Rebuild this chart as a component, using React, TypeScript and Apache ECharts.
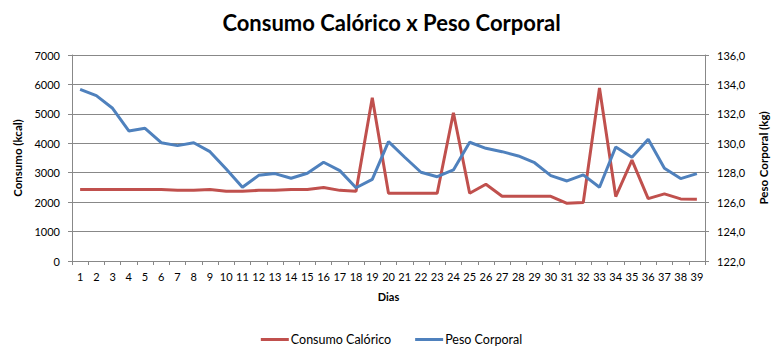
import React, { useEffect, useRef } from "react";
import * as echarts from "echarts";

const dias: string[] = Array.from({ length: 39 }, (_, i) => String(i + 1));

const consumoCalorico: number[] = [
  2430, 2430, 2430, 2430, 2430, 2430, 2400, 2400, 2430, 2370,
  2370, 2400, 2400, 2430, 2430, 2500, 2400, 2370, 5550, 2300,
  2300, 2300, 2300, 5040, 2300, 2610, 2200, 2200, 2200, 2200,
  1960, 1990, 5880, 2190, 3430, 2120, 2280, 2110, 2100,
];

const pesoCorporal: number[] = [
  133.67, 133.24, 132.38, 130.84, 131.02, 130.04, 129.84, 130.04, 129.43, 128.25,
  127.01, 127.82, 127.94, 127.62, 127.96, 128.71, 128.14, 126.98, 127.55, 130.11,
  129.05, 128.03, 127.73, 128.19, 130.07, 129.66, 129.43, 129.14, 128.68, 127.8,
  127.44, 127.85, 127.01, 129.75, 129.05, 130.27, 128.3, 127.6, 127.94,
];

const FONT = "Lato, 'Open Sans', sans-serif";

export default function App() {
  const ref = useRef<HTMLDivElement>(null);
  useEffect(() => {
    const chart = echarts.init(ref.current!, null, { renderer: "svg" });
    chart.setOption({
      animation: false,
      textStyle: { fontFamily: FONT },
      title: {
        text: "Consumo Calórico x Peso Corporal",
        left: "center",
        top: 6,
        textStyle: { fontSize: 22, fontWeight: "bold", color: "#000", fontFamily: FONT },
      },
      grid: { left: 72, right: 78, top: 55, bottom: 94 },
      legend: {
        top: 328,
        left: "center",
        itemWidth: 28,
        itemHeight: 3,
        itemGap: 24,
        icon: "rect",
        textStyle: { fontSize: 12.5, color: "#000", padding: [0, 0, 0, -3] },
        data: ["Consumo Calórico", "Peso Corporal"],
      },
      xAxis: {
        type: "category",
        data: dias,
        boundaryGap: true,
        name: "Dias",
        nameLocation: "middle",
        nameGap: 30,
        nameTextStyle: { fontSize: 11, fontWeight: "bold", color: "#000" },
        axisLine: { lineStyle: { color: "#888" } },
        axisTick: { show: true, alignWithLabel: false, length: 4, lineStyle: { color: "#888" } },
        axisLabel: { fontSize: 11, color: "#000", interval: 0, margin: 10 },
      },
      yAxis: [
        {
          type: "value",
          min: 0,
          max: 7000,
          interval: 1000,
          name: "Consumo (kcal)",
          nameLocation: "middle",
          nameRotate: 90,
          nameGap: 44,
          nameTextStyle: { fontSize: 11.5, fontWeight: "bold", color: "#000" },
          axisLine: { show: true, lineStyle: { color: "#888" } },
          axisTick: { show: true, length: 4, lineStyle: { color: "#888" } },
          axisLabel: { fontSize: 11, color: "#000", margin: 12, formatter: (v: number) => String(v) },
          splitLine: { show: true, lineStyle: { color: "#888", width: 1 } },
        },
        {
          type: "value",
          min: 122,
          max: 136,
          interval: 2,
          name: "Peso Corporal (kg)",
          nameLocation: "middle",
          nameRotate: 90,
          nameGap: 52,
          nameTextStyle: { fontSize: 11.5, fontWeight: "bold", color: "#000" },
          axisLine: { show: true, lineStyle: { color: "#888" } },
          axisTick: { show: true, length: 4, lineStyle: { color: "#888" } },
          axisLabel: {
            fontSize: 11,
            color: "#000",
            margin: 12,
            formatter: (v: number) => v.toFixed(1).replace(".", ","),
          },
          splitLine: { show: false },
        },
      ],
      series: [
        {
          name: "Consumo Calórico",
          type: "line",
          yAxisIndex: 0,
          data: consumoCalorico,
          showSymbol: false,
          symbol: "none",
          itemStyle: { color: "#C0504D" },
          lineStyle: { color: "#C0504D", width: 3 },
        },
        {
          name: "Peso Corporal",
          type: "line",
          yAxisIndex: 1,
          data: pesoCorporal,
          showSymbol: false,
          symbol: "none",
          itemStyle: { color: "#4F81BD" },
          lineStyle: { color: "#4F81BD", width: 3 },
        },
      ],
    });
    return () => chart.dispose();
  }, []);
  return (
    <div
      ref={ref}
      style={{ position: "absolute", left: 0, top: 0, width: 783, height: 355, background: "#fff" }}
    />
  );
}
